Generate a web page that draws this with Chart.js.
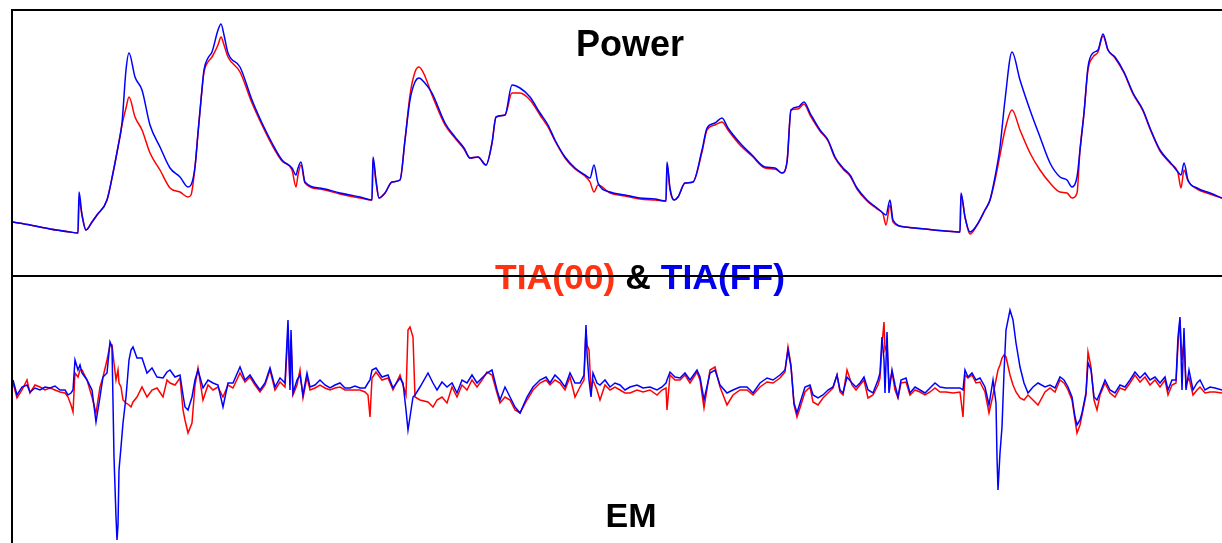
<!DOCTYPE html>
<html>
<head>
<meta charset="utf-8">
<script src="https://cdn.jsdelivr.net/npm/chart.js@4/dist/chart.umd.min.js"></script>
<style>
  html, body { margin: 0; padding: 0; background: #fff; }
  #wrap { position: relative; width: 1222px; height: 543px; overflow: hidden; }
  canvas { position: absolute; left: 0; }
  #powerChart { top: 0; }
  #emChart { top: 276px; }
  .rule { position: absolute; background: #000; z-index: 3; }
  .label {
    position: absolute; width: 500px; text-align: center; z-index: 2;
    font-family: "Liberation Sans", Arial, sans-serif; font-weight: bold; line-height: 1; white-space: nowrap;
  }
</style>
</head>
<body>
<div id="wrap">
  <canvas id="powerChart" width="1222" height="276"></canvas>
  <canvas id="emChart" width="1222" height="267"></canvas>

  <div class="label" style="left:380px; top:26px; font-size:36px; color:#000;">Power</div>
  <div class="label" style="left:390px; top:260px; font-size:35.5px;">
    <span style="color:#ff3311;">TIA(00)</span> <span style="color:#000;">&amp;</span> <span style="color:#0000ee;">TIA(FF)</span>
  </div>
  <div class="label" style="left:381px; top:498px; font-size:34px; color:#000;">EM</div>

  <div class="rule" style="left:11px; top:9px; width:2px; height:534px;"></div>
  <div class="rule" style="left:11px; top:9px; width:1211px; height:2px;"></div>
  <div class="rule" style="left:11px; top:275px; width:1211px; height:2px;"></div>
</div>

<script>
// sample positions along the trace (shared by both TIA settings)
const powerX = [13,30,50,70,78,79,82,86,92,97,107,113,118,122,126,129,135,142,150,160,
  170,180,188,191,195,198,201,204,208,212,218,221,224,228,240,252,262,272,282,292,
  296,298,301,305,320,340,360,372,373,376,379,385,392,400,405,410,415,419,424,432,
  445,455,464,470,478,486,492,496,505,512,520,530,540,548,555,565,575,585,590,594,
  598,610,625,640,655,666,667,670,674,678,685,693,702,707,715,722,728,740,752,765,
  775,782,787,791,798,804,810,820,828,835,843,850,857,867,877,883,886,890,893,905,
  925,945,960,961,965,970,977,985,990,995,1000,1005,1012,1020,1030,1040,1050,1060,1067,1072,
  1077,1080,1084,1088,1093,1098,1103,1108,1115,1124,1133,1143,1150,1160,1170,1178,1181,1184,1188,1197,
  1210,1222];

// power trace, TIA(FF) (blue)
const powerFF = [53,50,46,43,42,83,60,45,53,60,75,102,128,152,205,222,198,185,150,128,
  107,98,88,90,108,142,175,205,217,223,245,251,240,222,208,175,152,132,115,107,
  100,107,113,93,87,82,78,75,118,95,77,82,93,95,135,175,193,197,193,182,
  152,138,127,117,118,110,132,158,160,190,187,178,162,150,135,118,107,100,97,110,
  92,83,80,77,76,74,113,87,75,78,92,93,125,147,152,157,147,132,120,108,
  107,102,113,165,168,173,162,145,135,118,107,100,87,75,67,62,60,75,55,48,
  46,44,43,82,58,43,50,65,75,98,128,175,223,195,165,138,112,98,95,88,
  98,125,162,208,222,225,241,225,218,203,182,165,147,125,113,103,100,112,95,87,
  82,77];

// power trace, TIA(00) (red)
const power00 = [53,50,46,43,42,75,60,45,53,60,75,102,128,150,167,178,158,145,122,105,
  87,83,78,80,108,142,175,203,213,218,230,238,230,218,203,172,150,130,114,105,
  88,100,110,92,86,81,77,75,115,93,77,82,93,95,135,180,203,208,201,180,
  150,137,126,117,118,110,132,158,160,182,182,175,160,148,134,117,106,99,93,83,
  90,82,79,76,75,74,110,85,75,78,92,93,123,145,150,153,145,130,119,107,
  106,102,113,165,166,171,160,144,134,117,106,99,86,74,66,61,50,70,53,48,
  46,44,43,80,58,41,50,65,75,95,120,145,165,145,122,105,92,83,82,77,
  82,125,162,205,218,223,239,225,217,202,181,164,146,124,112,102,87,105,94,86,
  81,77];

const emX = [
  13,17,22,27,30,35,40,45,50,55,
  60,65,68,71,73,75,78,80,82,87,
  92,96,100,103,107,110,112,114,116,117,
  118,119,121,123,126,129,131,133,137,142,
  147,152,157,163,167,170,175,180,183,185,
  188,192,195,198,203,208,213,218,223,228,
  233,240,245,250,255,260,265,270,275,280,
  285,288,290,291,293,297,300,303,307,310,
  315,320,325,330,335,340,345,350,355,360,
  365,368,370,372,376,382,388,393,400,403,
  406,408,410,413,415,420,428,433,437,442,
  447,452,457,462,467,472,477,482,487,492,
  497,500,505,510,515,520,527,533,540,546,
  550,555,560,565,570,575,580,584,586,587,
  589,591,593,597,600,605,610,615,620,625,
  630,637,643,650,657,662,666,667,670,675,
  680,685,690,697,700,704,710,715,720,727,
  733,740,747,753,760,767,773,780,785,788,
  791,794,797,800,805,810,813,818,823,828,
  833,837,840,843,847,852,856,860,864,868,
  873,878,880,882,884,885,887,889,892,895,
  898,901,906,910,915,920,925,930,935,940,
  946,953,960,963,965,968,972,976,980,985,
  989,993,996,997,998,1000,1002,1004,1006,1010,
  1013,1016,1020,1024,1028,1033,1038,1045,1050,1055,
  1060,1064,1068,1072,1075,1077,1080,1082,1086,1088,
  1091,1094,1097,1100,1105,1110,1115,1120,1125,1130,
  1135,1140,1145,1150,1155,1160,1165,1168,1172,1176,
  1178,1180,1182,1184,1186,1189,1193,1197,1200,1205,
  1210,1215,1222];

// EM trace, TIA(FF) (blue)
const emFF = [
  8,-7,1,3,-4,0,-2,1,0,2,
  -2,-2,-7,-5,-2,28,18,23,15,8,
  -2,-34,-9,11,15,46,41,-69,-129,-152,
  -137,-82,-59,-35,-9,28,38,41,30,30,
  15,20,11,10,16,18,11,13,-7,-19,
  -22,-9,8,18,0,8,5,3,-19,5,
  5,21,8,13,5,-2,5,20,1,10,
  5,68,-2,58,-5,8,13,-7,15,1,
  3,8,3,0,3,5,0,0,2,0,
  0,5,8,18,20,11,13,0,10,5,
  -22,-42,-29,-9,-7,1,15,5,-2,6,
  1,5,-5,8,5,13,5,10,15,18,
  -2,-12,1,-9,-19,-25,-9,1,8,11,
  5,13,8,1,15,5,5,13,63,35,
  8,-9,15,5,3,8,1,5,3,-2,
  1,3,0,1,-2,1,5,8,16,11,
  10,15,8,18,11,-12,15,18,3,-5,
  -2,1,1,-5,5,10,8,13,18,38,
  21,-15,-25,-15,1,3,-7,-10,-7,-2,
  1,13,-2,-5,11,5,1,5,11,-2,
  -5,8,15,51,28,-5,56,-5,18,3,
  -9,8,10,-5,1,-2,-5,0,5,1,
  0,0,0,-2,18,11,15,8,10,1,
  -17,8,-15,-69,-102,-65,-39,15,58,78,
  68,45,21,5,-5,1,5,1,3,0,
  11,8,1,-9,-29,-37,-32,-25,-5,25,
  18,-9,-12,-5,8,-2,-5,3,1,8,
  16,10,15,8,11,5,11,-2,8,8,
  51,71,-2,60,-2,18,-2,5,8,-2,
  1,0,-2];

// EM trace, TIA(00) (red)
const em00 = [
  5,-10,-2,8,-5,3,1,-2,0,-2,
  -4,-5,-9,-17,-24,15,11,18,18,8,
  -9,-25,1,11,28,43,43,25,8,13,
  18,5,1,-12,-15,-17,-19,-14,-9,1,
  -9,-2,0,-9,8,5,3,10,-22,-32,
  -45,-35,3,20,-12,3,-2,1,-9,3,
  0,15,6,11,3,-4,3,18,-2,6,
  1,58,3,48,-7,3,18,-10,11,-2,
  0,3,0,-2,0,1,-2,-2,-2,-2,
  -4,-7,-29,10,16,8,10,-2,13,3,
  -7,58,61,51,-9,-12,-14,-19,-12,-9,
  -15,1,-9,3,-2,8,1,8,16,13,
  -5,-15,-9,-12,-22,-25,-12,-2,5,8,
  3,8,5,-2,11,-9,1,8,58,43,
  38,-2,8,-2,-12,3,-2,1,-2,-5,
  -5,-2,-4,-2,-7,-2,0,-22,13,8,
  8,13,5,16,8,-20,18,21,1,-17,
  -7,-2,-2,-7,1,6,5,10,16,41,
  23,-17,-29,-20,-4,1,-14,-17,-10,-5,
  0,13,-4,-7,18,3,-2,3,8,-10,
  -7,3,10,43,66,38,43,3,16,-2,
  -10,5,6,-7,-2,-4,-7,-4,0,-4,
  -4,-5,-4,-29,13,10,13,5,6,-4,
  -25,-7,8,13,18,23,30,33,31,13,
  3,-4,-10,-12,-7,-12,-17,-4,0,-4,
  8,5,-2,-12,-32,-45,-37,-27,-7,36,
  21,-12,-22,-7,5,-5,-9,0,-2,5,
  13,6,11,3,8,1,8,-7,3,5,
  43,68,28,48,3,10,-7,-2,1,-5,
  -4,-4,-5];

const BLUE = '#0000ff';
const RED = '#ff0000';

const toPoints = (xs, ys) => xs.map((x, i) => ({ x: x, y: ys[i] }));

const traceOptions = (yMin, yMax, pad, smooth) => ({
  responsive: false,
  animation: false,
  events: [],
  layout: { padding: pad },
  plugins: { legend: { display: false }, tooltip: { enabled: false } },
  elements: {
    point: { radius: 0 },
    line: { tension: 0, borderWidth: 1.5, cubicInterpolationMode: smooth ? 'monotone' : 'default' }
  },
  scales: {
    x: { type: 'linear', min: 12, max: 1222, display: false },
    y: { type: 'linear', min: yMin, max: yMax, display: false }
  }
});

// top panel: Power (smooth decays)
new Chart(document.getElementById('powerChart').getContext('2d'), {
  type: 'line',
  data: {
    datasets: [
      { label: 'TIA(FF)', data: toPoints(powerX, powerFF), borderColor: BLUE },
      { label: 'TIA(00)', data: toPoints(powerX, power00), borderColor: RED }
    ]
  },
  options: traceOptions(-1, 265, { left: 12, top: 10, right: 0, bottom: 0 }, true)
});

// bottom panel: EM (raw, jagged)
new Chart(document.getElementById('emChart').getContext('2d'), {
  type: 'line',
  data: {
    datasets: [
      { label: 'TIA(FF)', data: toPoints(emX, emFF), borderColor: BLUE },
      { label: 'TIA(00)', data: toPoints(emX, em00), borderColor: RED }
    ]
  },
  options: traceOptions(-155, 112, { left: 12, top: 0, right: 0, bottom: 0 }, false)
});
</script>
</body>
</html>
